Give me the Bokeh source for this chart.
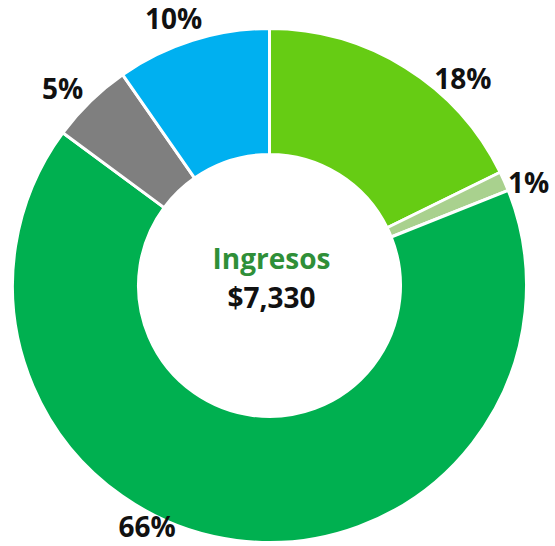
import math
from bokeh.plotting import figure
from bokeh.models import Range1d, ColumnDataSource
from bokeh.core.properties import value
from bokeh.embed import file_html
from bokeh.resources import INLINE

# --- data ---
categories = ["A", "B", "C", "D", "E"]
amounts = [1300, 90, 4850, 380, 710]
colors = ["#66CC14", "#A9D18E", "#00B050", "#7F7F7F", "#00B0F0"]
center_title = "Ingresos"

# label placement tweaks (angle nudge in degrees, radius)
label_nudge = [11.0, 2.2, 19.6, -2.1, -2.3]
label_radius = [284, 279, 270, 286, 284]

total = sum(amounts)
starts, ends, pct, lx, ly = [], [], [], [], []
cum = 0.0
for i, v in enumerate(amounts):
    f0 = cum / total
    cum += v
    f1 = cum / total
    a0 = math.pi / 2 - 2 * math.pi * f0
    a1 = math.pi / 2 - 2 * math.pi * f1
    starts.append(a1)
    ends.append(a0)
    pct.append(f"{round(v / total * 100)}%")
    mid_deg = (f0 + f1) / 2 * 360 + label_nudge[i]
    th = math.radians(mid_deg)
    lx.append(label_radius[i] * math.sin(th))
    ly.append(label_radius[i] * math.cos(th))

src = ColumnDataSource(dict(cat=categories, start=starts, end=ends, color=colors,
                            pct=pct, lx=lx, ly=ly))

p = figure(width=555, height=546, output_backend="svg", toolbar_location=None,
           x_range=Range1d(-269, 286), y_range=Range1d(-261, 285),
           min_border=0)
p.axis.visible = False
p.grid.visible = False
p.outline_line_color = None
p.background_fill_color = "white"

p.annular_wedge(x=0, y=0, inner_radius=131, outer_radius=257,
                start_angle="start", end_angle="end", color="color",
                line_color="white", line_width=3, source=src)

p.text(x="lx", y="ly", text="pct", source=src, text_font=value("Open Sans"),
       text_font_style="bold", text_font_size="28px", text_color="#111111",
       text_align="center", text_baseline="middle")

p.text(x=[2], y=[28], text=[center_title], text_font=value("Open Sans"),
       text_font_style="bold", text_font_size="28px", text_color="#2F8F38",
       text_align="center", text_baseline="middle")
p.text(x=[2], y=[-11], text=[f"${total:,}"], text_font=value("Open Sans"),
       text_font_style="bold", text_font_size="28px", text_color="#111111",
       text_align="center", text_baseline="middle")

open("out.html", "w").write(file_html(p, INLINE))
